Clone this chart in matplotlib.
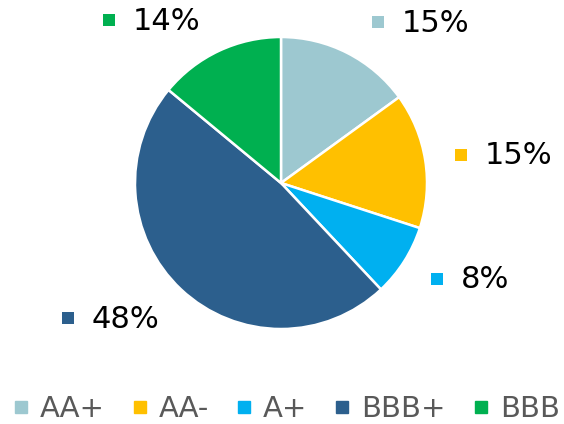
import matplotlib.pyplot as plt
from matplotlib.lines import Line2D

ratings = ['AA+', 'AA-', 'A+', 'BBB+', 'BBB']
shares = [15, 15, 8, 48, 14]
colors = ['#9DC8D0', '#FFC000', '#00B0F0', '#2C5F8D', '#00B050']

# label anchor (pixel coords from top-left) for each slice: marker centre
label_pos = [(378, 22), (461, 155), (437, 279), (68, 318), (109, 20)]

W, H = 564, 424
fig = plt.figure(figsize=(W / 100, H / 100), dpi=100)
ax = fig.add_axes([0, 0, 1, 1])
ax.set_xlim(0, W)
ax.set_ylim(0, H)
ax.axis('off')

ax.pie(shares, colors=colors, startangle=90, counterclock=False,
       center=(281, H - 183), radius=146,
       wedgeprops=dict(edgecolor='white', linewidth=1.8))
ax.set_xlim(0, W)
ax.set_ylim(0, H)
ax.set_aspect('equal')

for (px, py), v, c in zip(label_pos, shares, colors):
    ax.scatter([px], [H - py], marker='s', s=72, color=c, linewidths=0)
    ax.text(px + 24, H - py - 1, '{}%'.format(v), fontsize=22,
            color='black', va='center', ha='left')

handles = [Line2D([], [], marker='s', linestyle='none', markersize=8.5,
                  color=c) for c in colors]
fig.legend(handles, ratings, loc='lower center', bbox_to_anchor=(0.507, -0.025),
           ncol=5, frameon=False, fontsize=21, labelcolor='#595959',
           handlelength=0.6, handletextpad=0.35, columnspacing=0.9,
           borderaxespad=0)

fig.savefig('out.png', dpi=100)
